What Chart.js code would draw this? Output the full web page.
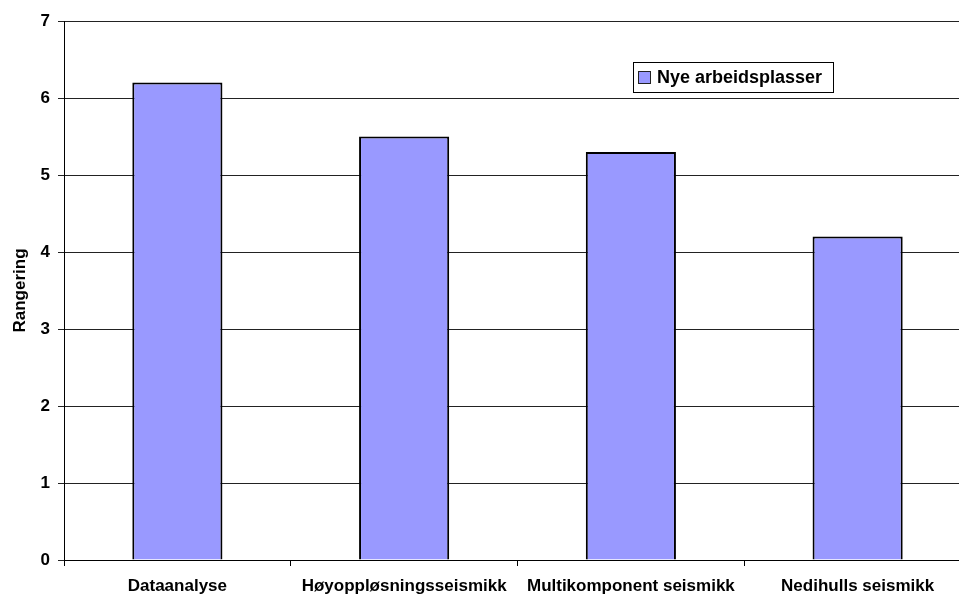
<!DOCTYPE html>
<html>
<head>
<meta charset="utf-8">
<script src="https://cdn.jsdelivr.net/npm/chart.js@4"></script>
<style>
  html, body { margin: 0; padding: 0; background: #fff; overflow: hidden; }
  #wrap { width: 959px; height: 597px; overflow: hidden; }
</style>
</head>
<body>
<div id="wrap"><canvas id="chart" width="971" height="597"></canvas></div>
<script>
// kategorier og verdier
const categories = ["Dataanalyse", "Høyoppløsningsseismikk", "Multikomponent seismikk", "Nedihulls seismikk"];
const rangering = [6.2, 5.5, 5.3, 4.2];
const seriesName = "Nye arbeidsplasser";
const yTicks = [0, 1, 2, 3, 4, 5, 6, 7];

const barFill = "#9999ff";
const fontFamily = "Arial, 'Liberation Sans', sans-serif";

// legende tegnet som en boks oppe til høyre
const boxLegend = {
  id: "boxLegend",
  afterDraw(chart) {
    const { ctx } = chart;
    const ds = chart.data.datasets[0];
    ctx.save();
    ctx.font = "bold 18px " + fontFamily;
    const x = 633, y = 62, h = 30;
    const w = 200;
    ctx.fillStyle = "#fff";
    ctx.fillRect(x, y, w, h);
    ctx.strokeStyle = "#000";
    ctx.lineWidth = 1;
    ctx.strokeRect(x + 0.5, y + 0.5, w, h);
    ctx.fillStyle = ds.backgroundColor;
    ctx.fillRect(x + 5, y + 9, 13, 13);
    ctx.strokeStyle = "#222";
    ctx.strokeRect(x + 5.5, y + 9.5, 12, 12);
    ctx.fillStyle = "#000";
    ctx.textBaseline = "middle";
    ctx.fillText(ds.label, x + 24, y + h / 2 + 1);
    ctx.restore();
  },
};

new Chart(document.getElementById("chart").getContext("2d"), {
  type: "bar",
  data: {
    labels: categories,
    datasets: [
      {
        label: seriesName,
        data: rangering,
        backgroundColor: barFill,
        borderColor: "#000",
        borderWidth: 2,
        barPercentage: 0.795,
        categoryPercentage: 0.5,
      },
    ],
  },
  options: {
    responsive: false,
    animation: false,
    layout: { padding: { top: 21, right: 0, left: 0, bottom: 0 } },
    plugins: {
      legend: { display: false },
      tooltip: { enabled: false },
    },
    scales: {
      x: {
        grid: {
          drawOnChartArea: false,
          drawTicks: true,
          tickLength: 6,
          color: "#000",
          offset: true,
        },
        border: { color: "#000", width: 1 },
        ticks: {
          color: "#000",
          padding: 10,
          maxRotation: 0,
          autoSkip: false,
          font: { family: fontFamily, size: 17, weight: "bold" },
        },
        afterFit(scale) {
          scale.height = 37;
        },
      },
      y: {
        min: 0,
        max: 7,
        afterBuildTicks(scale) {
          scale.ticks = yTicks.map((v) => ({ value: v }));
        },
        grid: {
          color: "#222",
          lineWidth: 1,
          tickLength: 6,
        },
        border: { color: "#000", width: 1 },
        ticks: {
          color: "#000",
          padding: 8,
          font: { family: fontFamily, size: 17, weight: "bold" },
        },
        title: {
          display: true,
          text: "Rangering",
          color: "#000",
          padding: { top: 10, bottom: 0 },
          font: { family: fontFamily, size: 17, weight: "bold" },
        },
        afterFit(scale) {
          scale.width = 64;
        },
      },
    },
  },
  plugins: [boxLegend],
});
</script>
</body>
</html>
